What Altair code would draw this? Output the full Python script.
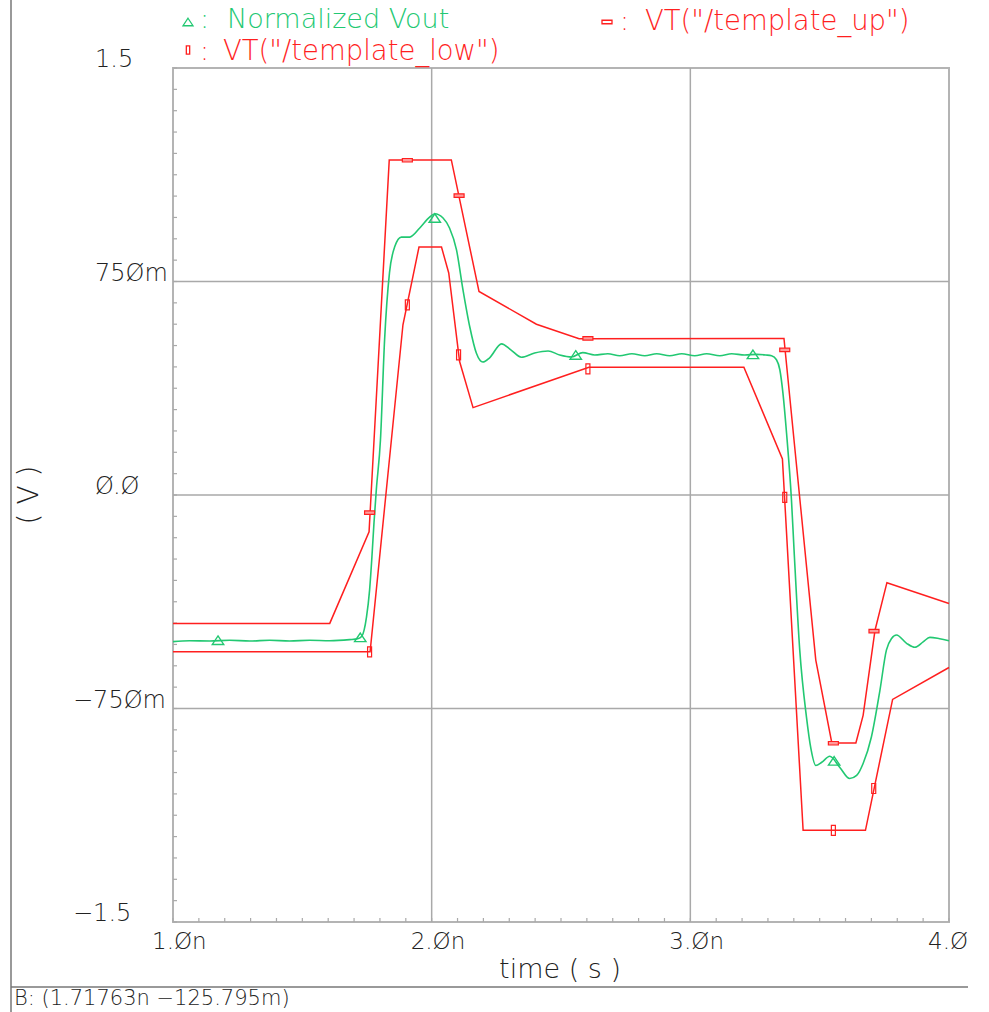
import altair as alt
import pandas as pd

# ---------------- data ----------------
green_t = [1.000, 1.064, 1.142, 1.219, 1.297, 1.374, 1.451, 1.528, 1.606, 1.683, 1.714, 1.730,
           1.748, 1.760, 1.769, 1.777, 1.786, 1.802, 1.818, 1.837, 1.857, 1.883, 1.915, 1.954,
           1.992, 2.012, 2.044, 2.069, 2.096, 2.121, 2.147, 2.173, 2.198, 2.224, 2.270, 2.306,
           2.347, 2.398, 2.450, 2.495, 2.541, 2.584, 2.630, 2.681, 2.727, 2.774, 2.824, 2.870,
           2.920, 2.967, 3.017, 3.063, 3.114, 3.160, 3.210, 3.257, 3.292, 3.314, 3.333, 3.346,
           3.358, 3.372, 3.391, 3.401, 3.423, 3.449, 3.466, 3.485, 3.508, 3.539, 3.578, 3.616,
           3.643, 3.668, 3.700, 3.733, 3.758, 3.778, 3.797, 3.836, 3.868, 3.900, 3.926, 3.964, 4.000]
green_v = [-0.515, -0.512, -0.513, -0.510, -0.513, -0.510, -0.513, -0.510, -0.512, -0.508, -0.505, -0.496,
           -0.429, -0.334, -0.218, -0.098, 0.018, 0.193, 0.545, 0.781, 0.872, 0.906, 0.906, 0.938,
           0.976, 0.988, 0.973, 0.938, 0.861, 0.721, 0.592, 0.498, 0.467, 0.482, 0.531, 0.510,
           0.484, 0.499, 0.506, 0.492, 0.485, 0.500, 0.492, 0.496, 0.489, 0.496, 0.489, 0.496,
           0.489, 0.496, 0.489, 0.496, 0.489, 0.496, 0.492, 0.494, 0.492, 0.489, 0.475, 0.440,
           0.358, 0.217, -0.018, -0.193, -0.545, -0.780, -0.890, -0.950, -0.939, -0.918, -0.957, -0.996,
           -0.985, -0.943, -0.850, -0.686, -0.545, -0.504, -0.492, -0.521, -0.535, -0.516, -0.500, -0.505, -0.512]

up_t = [1.000, 1.606, 1.758, 1.836, 2.076, 2.183, 2.405, 2.570, 3.362, 3.485, 3.547, 3.640, 3.668, 3.714, 3.760, 4.000]
up_v = [-0.451, -0.451, -0.129, 1.177, 1.177, 0.715, 0.600, 0.549, 0.550, -0.580, -0.871, -0.871, -0.774, -0.475, -0.308, -0.381]

low_t = [1.000, 1.762, 1.889, 1.951, 2.038, 2.066, 2.108, 2.160, 2.608, 3.207, 3.356, 3.436, 3.677, 3.782, 4.000]
low_v = [-0.551, -0.551, 0.598, 0.871, 0.871, 0.780, 0.469, 0.307, 0.449, 0.449, 0.127, -1.178, -1.178, -0.718, -0.606]

green_mk_t = [1.174, 1.724, 2.012, 2.557, 3.242, 3.556]
green_mk_v = [-0.510, -0.500, 0.973, 0.492, 0.494, -0.934]
up_mk_t = [1.906, 2.106, 1.760, 2.604, 3.365, 3.553, 3.710]
up_mk_v = [1.176, 1.052, -0.062, 0.550, 0.510, -0.872, -0.478]
low_mk_t = [1.906, 2.104, 1.760, 2.604, 3.365, 3.553, 3.709]
low_mk_v = [0.668, 0.492, -0.551, 0.443, -0.008, -1.178, -1.031]

y_pos_ticks = [1.5, 0.75, 0.0]
y_pos_labels = ["1.5", "75Øm", "Ø.Ø"]
y_neg_ticks = [-0.75, -1.5]
y_neg_labels = ["−75Øm", "−1.5"]
x_ticks = [1.0, 2.0, 3.0, 4.0]
x_labels = ["1.Øn", "2.Øn", "3.Øn", "4.Ø"]
x_grid = [2.0, 3.0]
y_grid = [-0.75, 0.0, 0.75]
y_minor = [round(-1.5 + 0.075 * i, 4) for i in range(41)]
x_minor = [round(1.0 + 0.1 * i, 4) for i in range(31)]

series_names = ["Normalized Vout", 'VT("/template_up")', 'VT("/template_low")']

# ---------------- style ----------------
W, H = 776, 854
FONT = "DejaVu Sans"
FW = 200
RED = "#ff1f1f"
GREEN = "#22c872"
GRID = "#a9a9a9"
TXT = "#222222"

XS = alt.Scale(domain=[1, 4], nice=False, zero=False)
YS = alt.Scale(domain=[-1.5, 1.5], nice=False, zero=False)

lines_df = pd.concat([
    pd.DataFrame({"t": green_t, "v": green_v, "s": series_names[0], "o": range(len(green_t))}),
    pd.DataFrame({"t": up_t, "v": up_v, "s": series_names[1], "o": range(len(up_t))}),
    pd.DataFrame({"t": low_t, "v": low_v, "s": series_names[2], "o": range(len(low_t))}),
])
one = pd.DataFrame({"a": [0]})

color_scale = alt.Scale(domain=series_names, range=[GREEN, RED, RED])

xgrid_layer = alt.Chart(pd.DataFrame({"t": x_grid})).mark_rule(color=GRID, strokeWidth=1.5).encode(
    x=alt.X("t:Q", scale=XS, axis=None), y=alt.value(0), y2=alt.value(H))
ygrid_layer = alt.Chart(pd.DataFrame({"v": y_grid})).mark_rule(color=GRID, strokeWidth=1.5).encode(
    y=alt.Y("v:Q", scale=YS, axis=None), x=alt.value(0), x2=alt.value(W))

ymin_df = pd.DataFrame({"v": y_minor})
xmin_df = pd.DataFrame({"t": x_minor})
yminor_layer = alt.Chart(ymin_df).mark_rule(color=GRID, strokeWidth=1.2).encode(
    y=alt.Y("v:Q", scale=YS, axis=None), x=alt.value(0), x2=alt.value(4))
xminor_layer = alt.Chart(xmin_df).mark_rule(color=GRID, strokeWidth=1.2).encode(
    x=alt.X("t:Q", scale=XS, axis=None), y=alt.value(H), y2=alt.value(H - 4))

green_line = alt.Chart(lines_df[lines_df.s == series_names[0]]).mark_line(
    interpolate="monotone", strokeWidth=1.6, color=GREEN).encode(
    x=alt.X("t:Q", scale=XS, axis=None), y=alt.Y("v:Q", scale=YS, axis=None), order="o:Q")
red_lines = alt.Chart(lines_df[lines_df.s != series_names[0]]).mark_line(strokeWidth=1.5).encode(
    x=alt.X("t:Q", scale=XS, axis=None), y=alt.Y("v:Q", scale=YS, axis=None),
    color=alt.Color("s:N", scale=color_scale, legend=None), detail="s:N", order="o:Q")

TRI = "M0,-0.75L1,0.75L-1,0.75Z"
HREC = "M-1,-0.35H1V0.35H-1Z"
VREC = "M-0.4,-1H0.4V1H-0.4Z"

gm = alt.Chart(pd.DataFrame({"t": green_mk_t, "v": green_mk_v})).mark_point(
    shape=TRI, size=130, filled=False, color=GREEN, strokeWidth=1.4, opacity=1).encode(
    x=alt.X("t:Q", scale=XS, axis=None), y=alt.Y("v:Q", scale=YS, axis=None))
um = alt.Chart(pd.DataFrame({"t": up_mk_t, "v": up_mk_v})).mark_point(
    shape=HREC, size=100, fill="#ff9a9a", stroke=RED, fillOpacity=1, strokeWidth=1.2, opacity=1).encode(
    x=alt.X("t:Q", scale=XS, axis=None), y=alt.Y("v:Q", scale=YS, axis=None))
lm = alt.Chart(pd.DataFrame({"t": low_mk_t, "v": low_mk_v})).mark_point(
    shape=VREC, size=100, filled=False, color=RED, strokeWidth=1.2, opacity=1).encode(
    x=alt.X("t:Q", scale=XS, axis=None), y=alt.Y("v:Q", scale=YS, axis=None))

ylab_pos = alt.Chart(pd.DataFrame({"v": y_pos_ticks, "lab": y_pos_labels})).mark_text(
    align="left", baseline="alphabetic", fontSize=24, font=FONT, fontWeight=FW, color=TXT, dy=-1).encode(
    y=alt.Y("v:Q", scale=YS, axis=None), x=alt.value(-78), text="lab:N")
ylab_neg = alt.Chart(pd.DataFrame({"v": y_neg_ticks, "lab": y_neg_labels})).mark_text(
    align="left", baseline="alphabetic", fontSize=24, font=FONT, fontWeight=FW, color=TXT, dy=-1).encode(
    y=alt.Y("v:Q", scale=YS, axis=None), x=alt.value(-100), text="lab:N")
xlab = alt.Chart(pd.DataFrame({"t": x_ticks, "lab": x_labels})).mark_text(
    align="left", baseline="alphabetic", fontSize=23, font=FONT, fontWeight=FW, color=TXT, dx=-21).encode(
    x=alt.X("t:Q", scale=XS, axis=None), y=alt.value(H + 27), text="lab:N")


def txt(s, x, y, size, color, align="left", angle=0, baseline="alphabetic"):
    return alt.Chart(one).mark_text(text=s, align=align, baseline=baseline, fontSize=size, font=FONT,
                                    fontWeight=FW, color=color, angle=angle).encode(
        x=alt.value(x), y=alt.value(y))


def sym(shape, x, y, size, color, fill=None):
    kw = dict(shape=shape, size=size, stroke=color, strokeWidth=1.3, opacity=1)
    if fill:
        kw.update(fill=fill, fillOpacity=1)
    else:
        kw.update(filled=False)
    return alt.Chart(one).mark_point(**kw).encode(x=alt.value(x), y=alt.value(y))


texts = [
    txt("( V )", -143, 427, 28, TXT, align="center", angle=270, baseline="middle"),
    txt("time ( s )", 387, 910, 27, TXT, align="center"),
    txt("B: (1.71763n −125.795m)", -159, 937, 21, TXT),
    sym(TRI, 15, -46, 100, GREEN),
    txt(":", 27, -40, 27, GREEN),
    txt("Normalized Vout", 54, -40, 27, GREEN),
    sym(VREC, 15, -18, 70, RED),
    txt(":", 27, -8, 27, RED),
    txt(series_names[2], 50, -8, 27.5, RED),
    sym(HREC, 434, -46, 100, RED),
    txt(":", 447, -38, 27, RED),
    txt(series_names[1], 472, -38, 27.5, RED),
]

frame = [
    alt.Chart(one).mark_rule(color="#777777", strokeWidth=1.5).encode(
        x=alt.value(-162), y=alt.value(-68), y2=alt.value(H + 90)),
    alt.Chart(one).mark_rule(color="#777777", strokeWidth=1.5).encode(
        x=alt.value(-162), x2=alt.value(795), y=alt.value(919)),
]

chart = alt.layer(
    xgrid_layer, ygrid_layer, yminor_layer, xminor_layer, red_lines, green_line, gm, um, lm,
    ylab_pos, ylab_neg, xlab, *texts, *frame
).properties(
    width=W, height=H,
    padding={"left": 173, "top": 68, "right": 40, "bottom": 90},
    autosize=alt.AutoSizeParams(type="none"),
    background="white",
).configure_view(stroke="#b4b4b4", strokeWidth=2)

chart.save("out.html", embed_options={"renderer": "svg", "actions": False})
